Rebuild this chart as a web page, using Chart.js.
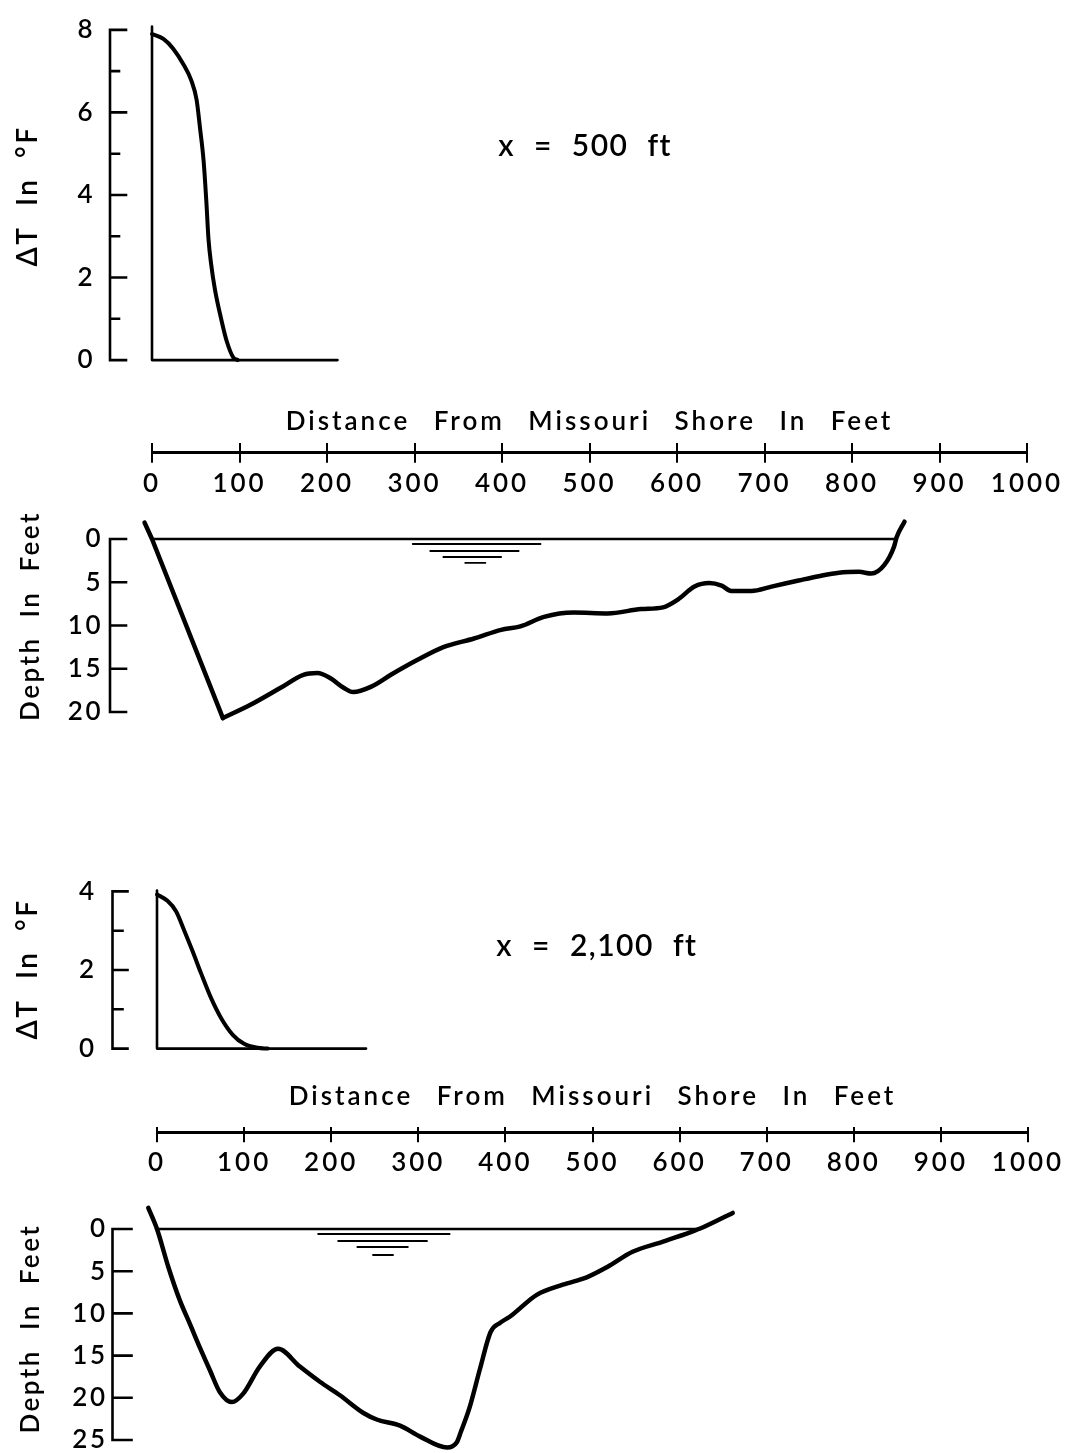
<!DOCTYPE html>
<html>
<head>
<meta charset="utf-8">
<title>Excess temperature and river cross sections</title>
<script src="https://cdn.jsdelivr.net/npm/chart.js@4.4.1/dist/chart.umd.min.js"></script>
<style>
  html, body { margin: 0; padding: 0; background: #fff; }
  body { width: 1068px; height: 1453px; position: relative; overflow: hidden; }
  canvas { position: absolute; left: 0; }
</style>
</head>
<body>
<canvas id="dt500"></canvas>
<canvas id="axis500"></canvas>
<canvas id="depth500"></canvas>
<canvas id="dt2100"></canvas>
<canvas id="axis2100"></canvas>
<canvas id="depth2100"></canvas>

<script>
// ===============================
// Data
// ===============================

// ticks
const distanceTicks = [0, 100, 200, 300, 400, 500, 600, 700, 800, 900, 1000];
const dt500Ticks = [0, 2, 4, 6, 8];
const dt500Minor = [1, 3, 5, 7];
const dt2100Ticks = [0, 2, 4];
const dt2100Minor = [1, 3];
const depth500Ticks = [0, 5, 10, 15, 20];
const depth2100Ticks = [0, 5, 10, 15, 20, 25];

// x = 500 ft : excess temperature (°F) vs distance from shore (ft)
const dt500Dist = [0, 13, 24, 36, 45, 51, 55, 59, 62, 64.5, 67.6, 72, 79, 85.5, 93, 98];
const dt500Temp = [7.90, 7.78, 7.55, 7.16, 6.77, 6.30, 5.60, 4.82, 3.88, 2.95, 2.32, 1.70, 1.00, 0.45, 0.06, 0];
const dt500Zero = [0, 212];   // zero line, from/to (ft)
const dt500Wall = 8.08;       // shore line at x = 0 goes up to here

// x = 500 ft : river bottom (depth in ft)
const depth500Dist = [-8.5, 0, 81, 112, 147, 173, 189, 204, 219, 230, 250, 273, 303, 333, 368, 399, 421, 448, 482, 521, 559, 584, 601, 620, 637, 651, 662, 685, 708, 739, 762, 785, 808, 822, 837, 848, 851, 860];
const depth500Ft = [-1.9, 0, 20.7, 19.2, 17.2, 15.7, 15.5, 16.1, 17.2, 17.7, 17.1, 15.7, 14.0, 12.5, 11.5, 10.5, 10.1, 9.0, 8.5, 8.6, 8.1, 7.9, 7.0, 5.5, 5.1, 5.4, 6.0, 6.0, 5.5, 4.8, 4.3, 3.9, 3.8, 4.0, 3.0, 0.9, -0.2, -2.0];
const depth500Corner = 2;     // sharp bend at the deepest point
const surface500 = [0, 851];
// water level sign: left end, right end, depth of each stroke
const wl500Left = [298, 318, 333, 358];
const wl500Right = [444, 419, 399, 381];
const wl500Depth = [0.58, 1.39, 2.08, 2.77];

// x = 2,100 ft
const dt2100Dist = [0, 12, 22, 31, 41, 50.5, 62, 73.5, 87, 100, 115.6, 127];
const dt2100Temp = [3.92, 3.76, 3.49, 3.02, 2.47, 1.92, 1.29, 0.78, 0.35, 0.12, 0.02, 0];
const dt2100Zero = [0, 240];
const dt2100Wall = 4.02;

const depth2100Dist = [-10, 0, 13, 26, 38, 49, 61, 72, 86, 99, 118, 139, 164, 187, 210, 237, 253, 279, 302, 333, 344, 349, 359, 371, 383, 394, 405, 436, 466, 494, 517, 546, 581, 612, 627, 661];
const depth2100Ft = [-2.5, 0, 4.5, 8.4, 11.3, 14.0, 16.8, 19.3, 20.5, 19.5, 16.3, 14.2, 16.3, 18.1, 19.7, 21.8, 22.6, 23.3, 24.6, 25.9, 25.3, 24.0, 21.1, 16.5, 12.2, 11.1, 10.4, 7.8, 6.6, 5.7, 4.5, 2.7, 1.5, 0.4, -0.2, -1.9];
const surface2100 = [0, 624];
const wl2100Left = [185, 208, 230, 248];
const wl2100Right = [336, 310, 288, 271];
const wl2100Depth = [0.59, 1.42, 2.13, 3.08];

// ===============================
// Page layout (pixels)
// ===============================
const W = 1068;
const FONT = "Lato, 'DejaVu Sans', sans-serif";
const WEIGHT = 600;
const INK = '#000';
const NUM_SIZE = 26;

// bracket x, and where 0 ft and 1000 ft fall
const sec500 = { left: 110, x0: 152, x1000: 1027 };
const sec2100 = { left: 112.5, x0: 157, x1000: 1028 };

Chart.defaults.font.family = FONT;
Chart.defaults.font.weight = WEIGHT;
Chart.defaults.color = INK;

// ===============================
// Helpers
// ===============================
function pts(xs, ys) {
  return xs.map((x, i) => ({ x: x, y: ys[i] }));
}

function lineSet(data, width, smooth) {
  return {
    data: data,
    showLine: true,
    borderColor: INK,
    borderWidth: width,
    pointRadius: 0,
    fill: false,
    tension: 0,
    cubicInterpolationMode: smooth ? 'monotone' : 'default',
    borderCapStyle: 'round',
    borderJoinStyle: 'round',
    clip: false
  };
}

function waterSign(lefts, rights, depths) {
  return depths.map((d, i) => lineSet([{ x: lefts[i], y: d }, { x: rights[i], y: d }], 1.8, false));
}

// letter spacing for the text chart.js draws itself
const spacingPlugin = {
  id: 'spacing',
  beforeDraw(chart, args, opts) {
    chart.ctx.letterSpacing = opts.letter || '0px';
    chart.ctx.wordSpacing = opts.word || '0px';
  }
};

// "[" shaped axis with ticks pointing into the plot
const bracketPlugin = {
  id: 'bracket',
  afterDatasetsDraw(chart, args, opts) {
    if (opts.from === undefined) return;
    const ctx = chart.ctx;
    const y = chart.scales.y;
    const x0 = chart.chartArea.left;
    ctx.save();
    ctx.strokeStyle = INK;
    ctx.lineWidth = 2.6;
    ctx.lineCap = 'square';
    ctx.beginPath();
    ctx.moveTo(x0, y.getPixelForValue(opts.from));
    ctx.lineTo(x0, y.getPixelForValue(opts.to));
    opts.major.forEach(v => {
      const p = y.getPixelForValue(v);
      ctx.moveTo(x0, p); ctx.lineTo(x0 + opts.majorLen, p);
    });
    (opts.minor || []).forEach(v => {
      const p = y.getPixelForValue(v);
      ctx.moveTo(x0, p); ctx.lineTo(x0 + opts.minorLen, p);
    });
    ctx.stroke();
    ctx.restore();
  }
};

// free text placed at data coordinates
const captionPlugin = {
  id: 'caption',
  afterDraw(chart, args, opts) {
    if (!opts.text) return;
    const ctx = chart.ctx;
    ctx.save();
    ctx.font = WEIGHT + ' ' + opts.size + 'px ' + FONT;
    ctx.letterSpacing = opts.letter || '0px';
    ctx.wordSpacing = opts.word || '0px';
    ctx.fillStyle = INK;
    ctx.textAlign = 'center';
    ctx.textBaseline = 'middle';
    ctx.fillText(opts.text, chart.scales.x.getPixelForValue(opts.x), chart.scales.y.getPixelForValue(opts.y));
    ctx.restore();
  }
};

// one plot (temperature or depth) with the y axis as a bracket
function makePanel(id, p) {
  const sec = p.sec;
  const ppf = (sec.x1000 - sec.x0) / 1000;
  const xMin = -(sec.x0 - sec.left) / ppf;

  let top, bottom;
  if (p.reverse) {
    top = p.zeroY + p.yMin * p.ppu;
    bottom = p.zeroY + p.yMax * p.ppu;
  } else {
    top = p.zeroY - p.yMax * p.ppu;
    bottom = p.zeroY - p.yMin * p.ppu;
  }
  const cTop = Math.floor(top - 24);
  const padTop = top - cTop;
  const h = Math.ceil(bottom - cTop + 24);
  const padBottom = h - (bottom - cTop);

  const cv = document.getElementById(id);
  cv.width = W;
  cv.height = h;
  cv.style.top = cTop + 'px';

  return new Chart(cv, {
    type: 'scatter',
    data: { datasets: p.datasets },
    plugins: [spacingPlugin, bracketPlugin, captionPlugin],
    options: {
      responsive: false,
      animation: false,
      events: [],
      devicePixelRatio: 1,
      layout: { padding: { left: 0, right: W - sec.x1000, top: padTop, bottom: padBottom } },
      scales: {
        x: { type: 'linear', min: xMin, max: 1000, display: false },
        y: {
          type: 'linear',
          min: p.yMin,
          max: p.yMax,
          reverse: !!p.reverse,
          afterBuildTicks: s => { s.ticks = p.ticks.map(v => ({ value: v })); },
          afterFit: s => { s.width = sec.left; },
          grid: { display: false, drawTicks: false },
          border: { display: false },
          ticks: { color: INK, font: { size: NUM_SIZE }, padding: p.tickPad, callback: v => String(v) },
          title: {
            display: true,
            text: p.title,
            color: INK,
            font: { size: p.titleSize },
            padding: { top: p.titlePad, bottom: 0 }
          }
        }
      },
      plugins: {
        legend: { display: false },
        tooltip: { enabled: false },
        spacing: { letter: '2.5px', word: '10px' },
        bracket: p.bracket,
        caption: p.caption || {}
      }
    }
  });
}

// horizontal distance scale with ticks crossing the line
function makeDistanceAxis(id, sec, titleY, axisY) {
  const titleSize = 26, lh = titleSize * 1.2;
  const tickLen = 10, labelPad = 5, labelH = NUM_SIZE * 1.2;
  const cTop = Math.floor(titleY - lh / 2 - 2);
  const padTop = titleY - lh / 2 - cTop;
  const titleGap = (axisY - tickLen) - titleY - lh / 2;
  const h = Math.ceil(axisY - cTop + tickLen + labelPad + labelH + 2);
  const padBottom = h - (axisY - cTop) - (tickLen + labelPad + labelH);

  const cv = document.getElementById(id);
  cv.width = W;
  cv.height = h;
  cv.style.top = cTop + 'px';

  return new Chart(cv, {
    type: 'scatter',
    data: { datasets: [] },
    plugins: [spacingPlugin],
    options: {
      responsive: false,
      animation: false,
      events: [],
      devicePixelRatio: 1,
      layout: { padding: { left: sec.x0, right: W - sec.x1000, top: padTop, bottom: padBottom } },
      scales: {
        x: {
          type: 'linear',
          min: 0,
          max: 1000,
          position: 'bottom',
          afterBuildTicks: s => { s.ticks = distanceTicks.map(v => ({ value: v })); },
          grid: { color: INK, lineWidth: 2, tickLength: tickLen, drawOnChartArea: true },
          border: { color: INK, width: 3 },
          ticks: { color: INK, font: { size: NUM_SIZE }, padding: labelPad, maxRotation: 0, autoSkip: false, callback: v => String(v) }
        },
        y: { display: false, min: 0, max: 1 }
      },
      plugins: {
        legend: { display: false },
        tooltip: { enabled: false },
        spacing: { letter: '3px', word: '14px' },
        title: {
          display: true,
          text: 'Distance From Missouri Shore In Feet',
          color: INK,
          font: { size: titleSize, weight: WEIGHT },
          padding: { top: 0, bottom: titleGap }
        }
      }
    }
  });
}

// ===============================
// x = 500 ft
// ===============================
makePanel('dt500', {
  sec: sec500, zeroY: 366, ppu: 42.75, yMin: -0.25, yMax: 8.2,
  ticks: dt500Ticks, tickPad: 15,
  title: 'ΔT In °F', titleSize: 28, titlePad: 11,
  bracket: { from: 0, to: 8, major: dt500Ticks, minor: dt500Minor, majorLen: 16, minorLen: 9 },
  caption: { text: 'x = 500 ft', x: 495, y: 5.17, size: 30, letter: '1.5px', word: '10px' },
  datasets: [
    lineSet([{ x: 0, y: dt500Wall }, { x: 0, y: 0 }, { x: dt500Zero[1], y: 0 }], 2.6, false),
    lineSet(pts(dt500Dist, dt500Temp), 4, true)
  ]
});

makeDistanceAxis('axis500', sec500, 422, 453);

makePanel('depth500', {
  sec: sec500, zeroY: 539, ppu: 8.65, yMin: -4, yMax: 21.8, reverse: true,
  ticks: depth500Ticks, tickPad: 7,
  title: 'Depth In Feet', titleSize: 26, titlePad: 15,
  bracket: { from: 0, to: 20, major: depth500Ticks, majorLen: 16 },
  datasets: [
    lineSet([{ x: surface500[0], y: 0 }, { x: surface500[1], y: 0 }], 2.6, false),
    ...waterSign(wl500Left, wl500Right, wl500Depth),
    lineSet(pts(depth500Dist.slice(0, depth500Corner + 1), depth500Ft.slice(0, depth500Corner + 1)), 4.5, false),
    lineSet(pts(depth500Dist.slice(depth500Corner), depth500Ft.slice(depth500Corner)), 4.5, true)
  ]
});

// ===============================
// x = 2,100 ft
// ===============================
makePanel('dt2100', {
  sec: sec2100, zeroY: 1055, ppu: 42.5, yMin: -0.25, yMax: 4.3,
  ticks: dt2100Ticks, tickPad: 16,
  title: 'ΔT In °F', titleSize: 28, titlePad: 11,
  bracket: { from: 0, to: 4, major: dt2100Ticks, minor: dt2100Minor, majorLen: 15, minorLen: 10 },
  caption: { text: 'x = 2,100 ft', x: 505, y: 2.59, size: 30, letter: '1.5px', word: '10px' },
  datasets: [
    lineSet([{ x: 0, y: dt2100Wall }, { x: 0, y: 0 }, { x: dt2100Zero[1], y: 0 }], 2.6, false),
    lineSet(pts(dt2100Dist, dt2100Temp), 4, true)
  ]
});

makeDistanceAxis('axis2100', sec2100, 1097, 1137);

makePanel('depth2100', {
  sec: sec2100, zeroY: 1229, ppu: 8.44, yMin: -3, yMax: 26.6, reverse: true,
  ticks: depth2100Ticks, tickPad: 5,
  title: 'Depth In Feet', titleSize: 26, titlePad: 15,
  bracket: { from: 0, to: 25, major: depth2100Ticks, majorLen: 19 },
  datasets: [
    lineSet([{ x: surface2100[0], y: 0 }, { x: surface2100[1], y: 0 }], 2.6, false),
    ...waterSign(wl2100Left, wl2100Right, wl2100Depth),
    lineSet(pts(depth2100Dist, depth2100Ft), 4.5, true)
  ]
});
</script>
</body>
</html>
